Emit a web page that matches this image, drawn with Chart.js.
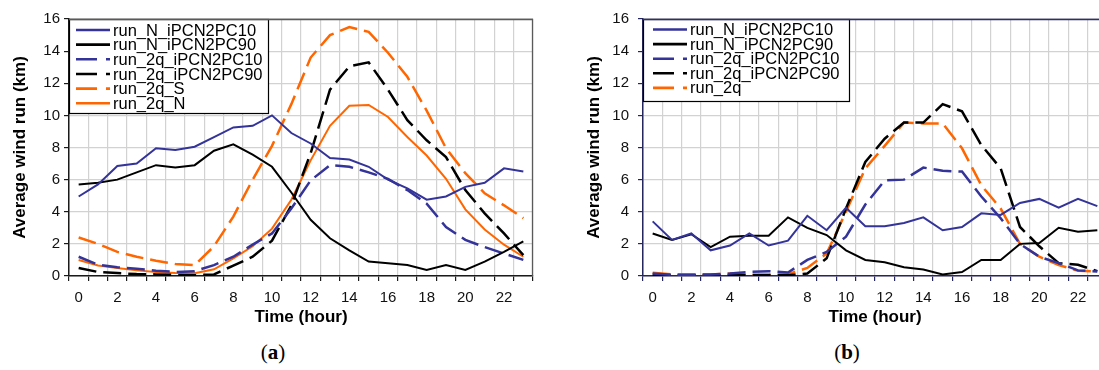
<!DOCTYPE html>
<html>
<head>
<meta charset="utf-8">
<script src="https://cdn.jsdelivr.net/npm/chart.js@4"></script>
<style>
  html, body { margin: 0; padding: 0; background: #fff; overflow: hidden; width: 1099px; height: 370px; }
  .wrap { position: absolute; top: 0; width: 540px; height: 332px; }
  #wa { left: 0; }
  #wb { left: 574px; }
  .cap { position: absolute; top: 338px; width: 60px; text-align: center;
         font: 21px "Liberation Serif", "DejaVu Serif", serif; line-height: 28px; color: #000; }
  .cap b { font-weight: bold; }
</style>
</head>
<body>
<div class="wrap" id="wa"><canvas id="chartA"></canvas></div>
<div class="wrap" id="wb"><canvas id="chartB"></canvas></div>
<div class="cap" style="left:243px">(<b>a</b>)</div>
<div class="cap" style="left:817px">(<b>b</b>)</div>
<script>
// x categories (hour of day)
const hours = ["0","1","2","3","4","5","6","7","8","9","10","11","12","13","14","15","16","17","18","19","20","21","22","23"];
const yTicks = [0, 2, 4, 6, 8, 10, 12, 14, 16];

// ---- (a) ----
const aN10  = [4.95, 5.7, 6.85, 7.0, 7.95, 7.85, 8.05, 8.65, 9.25, 9.35, 10.0, 8.9, 8.25, 7.35, 7.25, 6.8, 6.0, 5.45, 4.75, 4.95, 5.55, 5.8, 6.7, 6.5];
const aN90  = [5.7, 5.8, 6.0, 6.45, 6.9, 6.75, 6.9, 7.8, 8.2, 7.55, 6.8, 5.2, 3.5, 2.35, 1.6, 0.9, 0.8, 0.68, 0.38, 0.68, 0.38, 0.9, 1.5, 2.15];
const a2q10 = [1.2, 0.7, 0.55, 0.45, 0.33, 0.25, 0.3, 0.68, 1.2, 1.95, 2.65, 4.2, 5.95, 6.9, 6.8, 6.45, 6.05, 5.35, 4.5, 3.05, 2.25, 1.8, 1.4, 1.0];
const a2q90 = [0.5, 0.25, 0.18, 0.12, 0.1, 0.07, 0.05, 0.1, 0.65, 1.2, 2.2, 4.4, 7.65, 11.6, 13.05, 13.3, 11.6, 9.7, 8.45, 7.4, 5.35, 3.9, 2.65, 1.3];
const a2qS  = [2.4, 2.0, 1.5, 1.2, 0.95, 0.75, 0.68, 1.85, 3.7, 6.0, 8.1, 10.7, 13.6, 15.0, 15.5, 15.2, 13.9, 12.4, 10.3, 7.95, 6.4, 5.15, 4.4, 3.6];
const a2qN  = [1.0, 0.65, 0.5, 0.35, 0.25, 0.18, 0.17, 0.42, 1.1, 1.85, 2.95, 4.75, 7.2, 9.35, 10.6, 10.65, 9.9, 8.65, 7.5, 6.05, 4.15, 2.9, 1.95, 1.2];

// ---- (b) ----
const bN10  = [3.4, 2.25, 2.65, 1.6, 1.9, 2.65, 1.9, 2.2, 3.75, 2.85, 4.25, 3.1, 3.1, 3.3, 3.65, 2.85, 3.05, 3.9, 3.8, 4.55, 4.8, 4.25, 4.8, 4.35];
const bN90  = [2.65, 2.25, 2.6, 1.8, 2.45, 2.5, 2.5, 3.65, 3.0, 2.55, 1.6, 1.0, 0.85, 0.55, 0.4, 0.1, 0.25, 1.0, 1.0, 2.0, 2.05, 3.0, 2.75, 2.85];
const b2q10 = [0.15, 0.08, 0.08, 0.1, 0.15, 0.25, 0.3, 0.22, 1.0, 1.5, 2.45, 4.45, 5.95, 6.0, 6.75, 6.55, 6.5, 4.95, 3.6, 2.0, 1.2, 0.8, 0.35, 0.28];
const b2q90 = [0.08, 0.05, 0.05, 0.05, 0.05, 0.05, 0.05, 0.05, 0.15, 1.1, 4.2, 7.1, 8.55, 9.55, 9.55, 10.7, 10.25, 8.15, 6.7, 3.05, 1.85, 0.8, 0.7, 0.3];
const b2q   = [0.2, 0.1, 0.1, 0.1, 0.15, 0.1, 0.1, 0.12, 0.5, 1.4, 4.0, 6.7, 8.1, 9.55, 9.5, 9.5, 7.95, 5.65, 4.2, 2.0, 1.2, 0.68, 0.33, 0.27];

const BLUE = "#333399", ORANGE = "#ff6600", BLACK = "#000000";
const DASH = [18, 7];

Chart.defaults.font.family = '"Liberation Sans", Arial, sans-serif';
Chart.defaults.color = "#000";

function line(label, data, color, dashed) {
  return {
    label, data,
    borderColor: color,
    backgroundColor: color,
    borderWidth: dashed ? 2.5 : 2,
    borderDash: dashed ? DASH : [],
    pointRadius: 0,
    tension: 0,
    fill: false
  };
}

// legend drawn as a white box in the top-left corner of the plot
const boxLegend = {
  id: "boxLegend",
  afterDatasetsDraw(chart, args, opts) {
    const ctx = chart.ctx, a = chart.chartArea;
    ctx.save();
    ctx.fillStyle = "#fff";
    ctx.fillRect(a.left, a.top, opts.width, opts.height);
    ctx.strokeStyle = "#000";
    ctx.lineWidth = 1.2;
    ctx.strokeRect(a.left + 0.5, a.top + 0.5, opts.width, opts.height);
    ctx.font = '16.5px "Liberation Sans", Arial, sans-serif';
    ctx.textBaseline = "middle";
    ctx.textAlign = "left";
    chart.data.datasets.forEach((ds, i) => {
      const y = a.top + opts.firstRow + i * opts.rowGap;
      const x0 = a.left + opts.sampleX;
      ctx.beginPath();
      ctx.setLineDash(ds.borderDash.length ? [21, 9] : []);
      ctx.strokeStyle = ds.borderColor;
      ctx.lineWidth = 2.6;
      ctx.moveTo(x0, y);
      ctx.lineTo(x0 + 34, y);
      ctx.stroke();
      ctx.setLineDash([]);
      ctx.fillStyle = "#000";
      ctx.fillText(ds.label, x0 + 37, y + 1);
    });
    ctx.restore();
  }
};

// top + right edge of the plot frame
const frame = {
  id: "frame",
  afterDraw(chart, args, opts) {
    const ctx = chart.ctx, a = chart.chartArea;
    ctx.save();
    ctx.strokeStyle = opts.color;
    ctx.lineWidth = 1.3;
    ctx.beginPath();
    ctx.moveTo(a.left, a.top + 0.5);
    ctx.lineTo(a.right - 0.5, a.top + 0.5);
    ctx.lineTo(a.right - 0.5, a.bottom);
    ctx.stroke();
    ctx.restore();
  }
};

function makeChart(id, datasets, axisColor, frameColor, yPad, legendBox) {
  return new Chart(document.getElementById(id), {
    type: "line",
    data: { labels: hours, datasets },
    options: {
      responsive: true,
      maintainAspectRatio: false,
      animation: false,
      layout: { padding: { top: 19, right: 7, left: 0, bottom: 0 } },
      plugins: {
        legend: { display: false },
        tooltip: { enabled: false },
        boxLegend: legendBox,
        frame: { color: frameColor }
      },
      scales: {
        x: {
          type: "category",
          offset: true,
          grid: { offset: true, color: "#d2d2d2", lineWidth: 1.2, tickLength: 5, tickColor: axisColor, tickWidth: 1.2 },
          border: { color: axisColor, width: 1.5 },
          ticks: {
            autoSkip: false, maxRotation: 0, padding: 8,
            font: { size: 15 }, color: "#111",
            callback: (v, i) => (i % 2 === 0 ? hours[i] : "")
          },
          title: { display: true, text: "Time (hour)", font: { size: 17, weight: "bold" }, padding: { top: 4, bottom: 4 } },
          afterFit: (s) => { s.height = 56; }
        },
        y: {
          min: 0, max: 16,
          afterBuildTicks: (s) => { s.ticks = yTicks.map(v => ({ value: v })); },
          grid: { color: "#d2d2d2", lineWidth: 1.2, tickLength: 5, tickColor: axisColor, tickWidth: 1.2 },
          border: { color: axisColor, width: 1.5 },
          ticks: { padding: yPad, font: { size: 15 }, color: "#111" },
          title: { display: true, text: "Average wind run (km)", font: { size: 17, weight: "bold" }, padding: { top: 10, bottom: 0 } },
          afterFit: (s) => { s.width = 69; }
        }
      }
    },
    plugins: [boxLegend, frame]
  });
}

makeChart("chartA", [
  line("run_N_iPCN2PC10", aN10, BLUE, false),
  line("run_N_iPCN2PC90", aN90, BLACK, false),
  line("run_2q_iPCN2PC10", a2q10, BLUE, true),
  line("run_2q_iPCN2PC90", a2q90, BLACK, true),
  line("run_2q_S", a2qS, ORANGE, true),
  line("run_2q_N", a2qN, ORANGE, false)
], "#1a1a1a", "#5a5a5a", 4, { width: 199, height: 94, sampleX: 7, firstRow: 11, rowGap: 14.66 });

makeChart("chartB", [
  line("run_N_iPCN2PC10", bN10, BLUE, false),
  line("run_N_iPCN2PC90", bN90, BLACK, false),
  line("run_2q_iPCN2PC10", b2q10, BLUE, true),
  line("run_2q_iPCN2PC90", b2q90, BLACK, true),
  line("run_2q", b2q, ORANGE, true)
], "#26265e", "#2e2e78", 9, { width: 206, height: 82, sampleX: 10, firstRow: 10.5, rowGap: 14.6 });
</script>
</body>
</html>
